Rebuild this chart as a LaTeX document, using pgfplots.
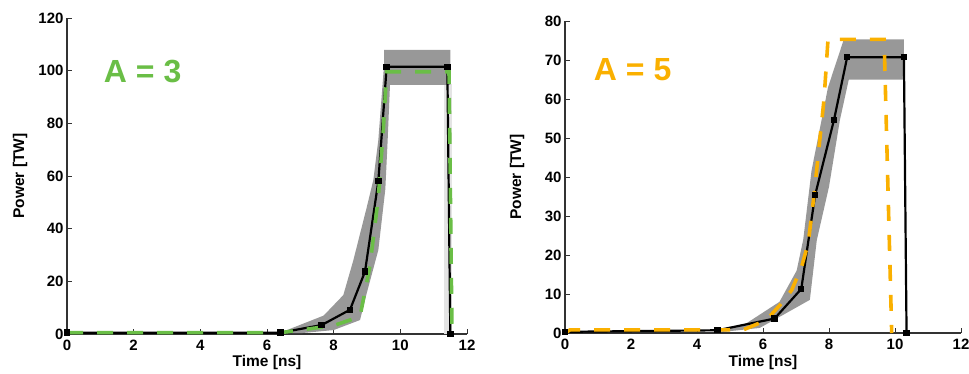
\documentclass[border=0pt]{standalone}
\usepackage{fontspec}
\setmainfont{Liberation Sans}
\usepackage{pgfplots}
\pgfplotsset{compat=1.18}
\definecolor{agreen}{RGB}{106,190,70}
\definecolor{aorange}{RGB}{250,176,0}
\definecolor{band}{RGB}{152,152,152}
\definecolor{bandlight}{RGB}{228,228,228}
\pgfplotsset{
  myaxis/.style={
    scale only axis,
    axis lines*=left,
    xmin=0, xmax=12, ymin=0,
    xtick={0,2,...,12},
    tick align=inside,
    major tick length=5pt,
    axis line style={line width=1.2pt, black!80},
    tick style={line width=1pt, black!80},
    tick label style={font=\bfseries\fontsize{15}{15}\selectfont},
    label style={font=\bfseries\fontsize{15.5}{16}\selectfont},
    /pgf/number format/assume math mode=true,
    xticklabel style={yshift=-2.5pt},
    xlabel={Time [ns]},
    ylabel={Power [TW]},
    clip=false,
  },
  blk/.style={black, line width=2.2pt, mark=square*, mark size=2.1pt, mark options={solid}},
  dsh/.style={line width=3.6pt, dash pattern=on 16pt off 14pt},
}
\begin{document}
\begin{tikzpicture}
% ---------- Left: A = 3 ----------
\begin{axis}[myaxis,
  at={(67pt,39pt)}, anchor=south west,
  width=400pt, height=316pt,
  ymax=120, ytick={0,20,...,120},
  xlabel style={at={(axis description cs:0.5,-0.089)}, anchor=center},
  ylabel style={at={(axis description cs:-0.1175,0.5)}, anchor=center},
]
\addplot[fill=bandlight, draw=none] coordinates {
(11.3,0) (11.3,95) (11.56,95) (11.56,0)} -- cycle;
\addplot[fill=band, draw=none] coordinates {
(6.4,0.5) (7.0,3.5) (7.7,7) (8.29,14.8) (8.59,28) (8.99,48) (9.19,58.5)
(9.34,73.7) (9.51,102) (9.51,107.9) (11.5,107.9) (11.5,94.6) (9.69,94.6)
(9.62,73.7) (9.55,55) (9.34,31.9) (8.99,15.4) (8.79,5.3) (8.0,1.5) (7.0,0.3)} -- cycle;
\addplot[blk] coordinates {
(0,0.5) (6.4,0.5) (7.64,3.4) (8.49,9.2) (8.94,23.7) (9.34,58) (9.59,101.5)
(11.41,101.5) (11.5,0)};
\addplot[agreen, dsh] coordinates {
(0,0.5) (6.4,0.5) (8.0,3.2) (8.79,6.6) (9.09,26) (9.34,52) (9.49,77.5)
(9.59,99.6) (11.46,99.6) (11.55,0)};
\node[agreen, font=\bfseries\fontsize{32}{32}\selectfont] at (axis cs:2.27,99.5) {A = 3};
\end{axis}
% ---------- Right: A = 5 ----------
\begin{axis}[myaxis,
  at={(565pt,40pt)}, anchor=south west,
  width=396pt, height=312pt,
  ymax=80, ytick={0,10,...,80},
  xlabel style={at={(axis description cs:0.5,-0.093)}, anchor=center},
  ylabel style={at={(axis description cs:-0.121,0.5)}, anchor=center},
]
\addplot[fill=band, draw=none] coordinates {
(4.6,0.5) (5.5,2.5) (6.5,8) (7.02,16) (7.22,24) (7.47,41.6) (7.97,63)
(8.45,75.3) (10.27,75.3) (10.27,65) (8.6,65) (8.33,54.6) (8.0,37.5)
(7.63,23.8) (7.42,8.5) (6.6,4.6) (5.9,1.3) (4.8,0.3)} -- cycle;
\addplot[blk] coordinates {
(0,0.3) (4.62,0.7) (6.35,3.7) (7.16,11.3) (7.58,35.4) (8.15,54.6) (8.55,70.7)
(10.27,70.7) (10.35,0)};
\addplot[aorange, dsh] coordinates {
(0,0) (0.15,0.8) (5.4,0.8) (6.1,3.3) (6.56,7.6) (6.87,11) (7.17,17) (7.37,23)
(7.55,35.6) (7.85,60) (7.97,75.3) (9.67,75.3) (9.9,0)};
\node[aorange, font=\bfseries\fontsize{32}{32}\selectfont] at (axis cs:2.05,67.5) {A = 5};
\end{axis}
\pgfresetboundingbox
\useasboundingbox (0,0) rectangle (969pt,373pt);
\end{tikzpicture}
\end{document}
